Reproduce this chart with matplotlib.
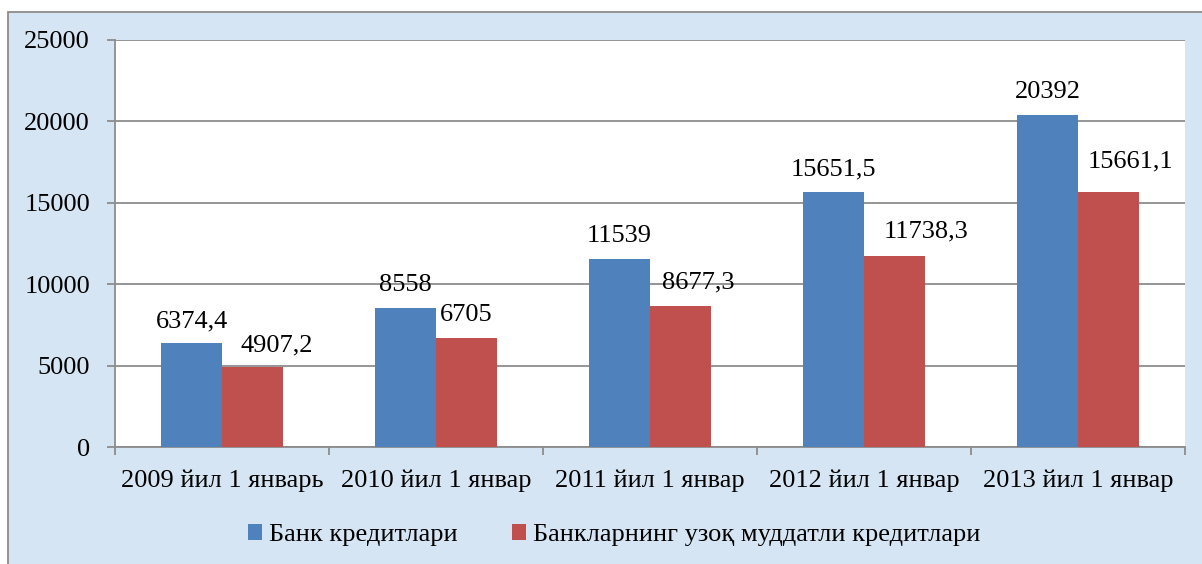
import matplotlib
matplotlib.use("Agg")
import matplotlib.pyplot as plt
from matplotlib.patches import Rectangle
import numpy as np

categories = ["2009 йил 1 январь", "2010 йил 1 январ", "2011 йил 1 январ",
              "2012 йил 1 январ", "2013 йил 1 январ"]
bank_credits = [6374.4, 8558, 11539, 15651.5, 20392]
long_term = [4907.2, 6705, 8677.3, 11738.3, 15661.1]
bank_labels = ["6374,4", "8558", "11539", "15651,5", "20392"]
long_labels = ["4907,2", "6705", "8677,3", "11738,3", "15661,1"]
series_names = ["Банк кредитлари", "Банкларнинг узоқ муддатли кредитлари"]
yticks = [0, 5000, 10000, 15000, 20000, 25000]

# label placement tweaks (pixels) as manually moved in the original
long_label_dx = [24, 0, 18, 32, 22]
long_label_dy = [16, 17, 17, 18, 25]
bank_label_dy = [16, 17, 17, 17, 17]

plt.rcParams['font.family'] = ['Liberation Serif', 'DejaVu Serif']
FS = 19

W, H = 1202, 564
fig = plt.figure(figsize=(W/100, H/100), dpi=100)
fig.patch.set_facecolor('white')
# outer chart frame with light blue background (right/bottom edges run off the image)
fig.patches.append(Rectangle((8/W, -0.05), 1.1, (H-12)/H + 0.05, transform=fig.transFigure,
                             facecolor='#d6e5f3', edgecolor='#8c8c8c', linewidth=1.3, zorder=-5))

ax = fig.add_axes([115/W, 1-447/H, (1185-115)/W, (447-40)/H])
ax.set_facecolor('white')

x = np.arange(len(categories))
bw = 0.285
blue = '#4F81BD'
red = '#C0504D'
b1 = ax.bar(x - bw/2, bank_credits, bw, color=blue, label=series_names[0], zorder=3)
b2 = ax.bar(x + bw/2, long_term, bw, color=red, label=series_names[1], zorder=3)

for xi, v, t, dy in zip(x, bank_credits, bank_labels, bank_label_dy):
    ax.annotate(t, (xi - bw/2, v), xytext=(0, dy), textcoords='offset pixels',
                ha='center', va='baseline', fontsize=FS, zorder=5)
for xi, v, t, dx, dy in zip(x, long_term, long_labels, long_label_dx, long_label_dy):
    ax.annotate(t, (xi + bw/2, v), xytext=(dx, dy), textcoords='offset pixels',
                ha='center', va='baseline', fontsize=FS, zorder=5)

ax.set_xlim(-0.5, len(categories) - 0.5)
ax.set_ylim(0, 25000)
ax.set_yticks(yticks)
ax.set_yticklabels([str(t) for t in yticks], fontsize=FS)
ax.yaxis.grid(True, color='#8c8c8c', linewidth=1.3, zorder=0)
ax.set_axisbelow(True)

ax.set_xticks(x)
ax.set_xticklabels(categories, fontsize=FS)
ax.tick_params(axis='x', length=0, pad=16)
ax.set_xticks(np.arange(-0.5, len(categories)), minor=True)
ax.tick_params(axis='x', which='minor', length=6, color='#8c8c8c', width=1.3)
ax.tick_params(axis='y', length=6, color='#8c8c8c', width=1.3, pad=12)

for s in ['top', 'right']:
    ax.spines[s].set_visible(False)
for s in ['left', 'bottom']:
    ax.spines[s].set_color('#8c8c8c')
    ax.spines[s].set_linewidth(1.3)

leg = fig.legend(handles=[b1, b2], labels=series_names, loc='center',
                 bbox_to_anchor=(614/W, 1-535/H), ncol=2, frameon=False,
                 fontsize=FS, handlelength=0.55, handleheight=0.55, handletextpad=0.25,
                 columnspacing=2.05)

fig.savefig('out.png', dpi=100)
